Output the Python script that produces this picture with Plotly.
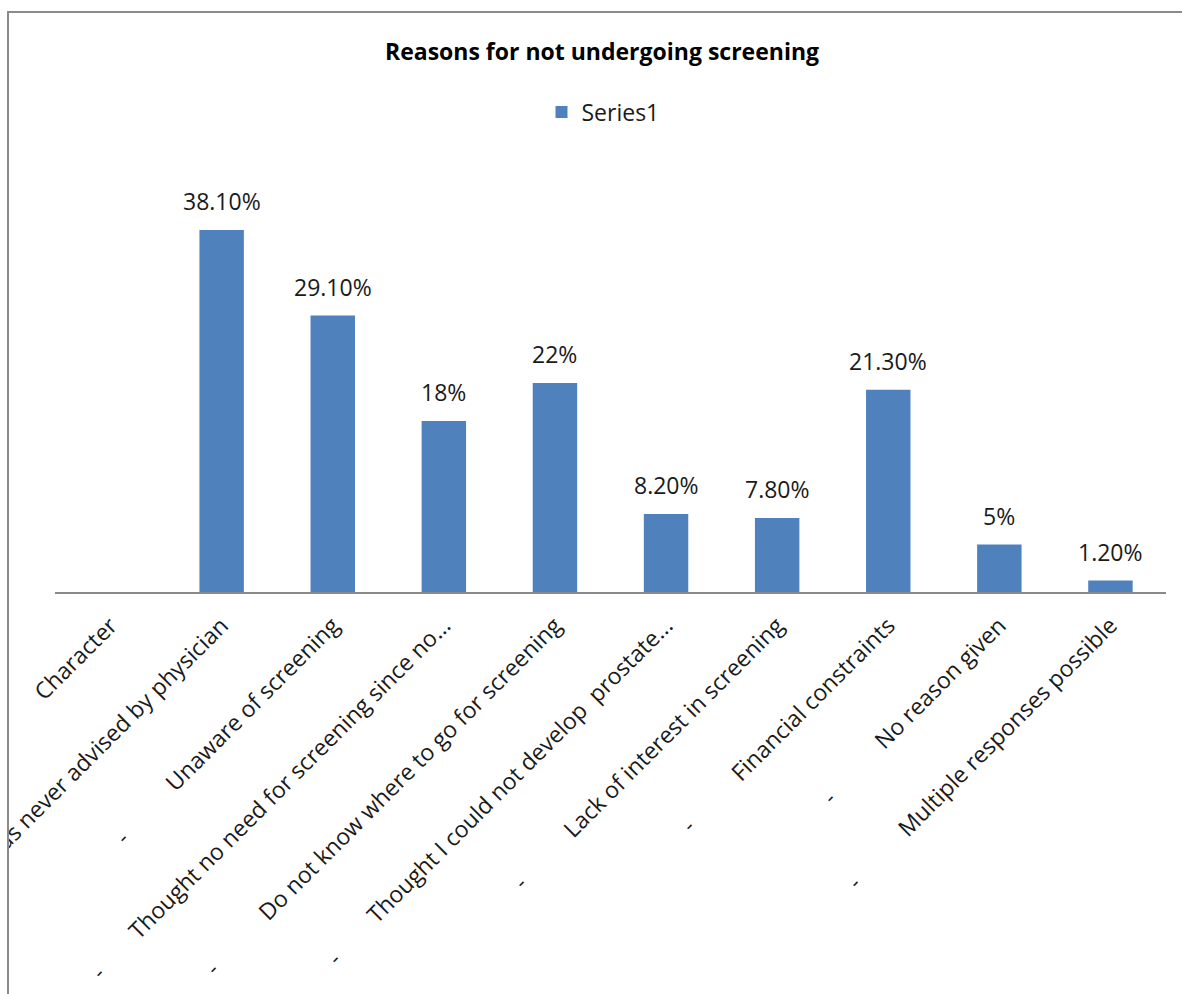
import plotly.graph_objects as go

# Survey responses: reasons for not undergoing screening
categories = [
    "Character",
    "Was never advised by physician",
    "Unaware of screening",
    "Thought no need for screening since no...",
    "Do not know where to go for screening",
    "Thought I could not develop  prostate...",
    "Lack of interest in screening",
    "Financial constraints",
    "No reason given",
    "Multiple responses possible",
]
values = [None, 38.1, 29.1, 18, 22, 8.2, 7.8, 21.3, 5, 1.2]
value_labels = ["", "38.10%", "29.10%", "18%", "22%", "8.20%", "7.80%", "21.30%", "5%", "1.20%"]

# stray second-line dashes under the category labels (pixel positions in the page)
dash_marks = [(121, 837), (97, 972), (211, 968), (333, 958), (519, 882),
              (687, 825), (828, 797), (853, 882)]

W, H = 1182, 994
ML, MR, MT, MB = 55, 16, 212, 402
PW, PH = W - ML - MR, H - MT - MB
YMAX = 40

FONT = "Open Sans, Liberation Sans, sans-serif"
BAR = "#4F81BD"
TXT = "#1a1a1a"

fig = go.Figure()
fig.add_trace(go.Bar(
    x=categories, y=values, name="Series1",
    marker=dict(color=BAR, line=dict(width=0)),
    width=0.4,
))

# value labels above the bars
for c, v, t in zip(categories, values, value_labels):
    if v is None:
        continue
    fig.add_annotation(x=c, y=v, xref="x", yref="y", text=t, showarrow=False,
                       yanchor="bottom", yshift=11,
                       font=dict(family=FONT, size=23, color=TXT))


def px_x(p):
    return (p - ML) / PW


def px_y(p):
    return (H - MB - p) / PH


for dx, dy in dash_marks:
    fig.add_annotation(x=px_x(dx), y=px_y(dy), xref="paper", yref="paper",
                       text="-", showarrow=False, textangle=-45,
                       xanchor="center", yanchor="middle",
                       font=dict(family=FONT, size=22, color=TXT))

# white mask left of the chart frame, then the frame itself
fig.add_shape(type="rect", xref="paper", yref="paper", layer="above",
              x0=px_x(-50), x1=px_x(8), y0=px_y(H + 50), y1=px_y(-50),
              fillcolor="white", line=dict(width=0))
fig.add_shape(type="rect", xref="paper", yref="paper", layer="above",
              x0=px_x(8), x1=px_x(W + 40), y0=px_y(H + 40), y1=px_y(12),
              fillcolor="rgba(0,0,0,0)", line=dict(color="#8a8a8a", width=2))

fig.update_layout(
    width=W, height=H,
    margin=dict(l=ML, r=MR, t=MT, b=MB, autoexpand=False),
    paper_bgcolor="white", plot_bgcolor="white",
    font=dict(family=FONT, size=22, color=TXT),
    title=dict(text="<b>Reasons for not undergoing screening</b>",
               x=602 / W, xanchor="center", xref="container",
               y=1 - 52 / H, yanchor="middle", yref="container",
               font=dict(family=FONT, size=23, color="#000000")),
    showlegend=True,
    legend=dict(orientation="h", x=603 / W, xanchor="center", xref="container",
                y=1 - 112 / H, yanchor="middle", yref="container",
                font=dict(family=FONT, size=23, color=TXT),
                itemwidth=30, bgcolor="rgba(0,0,0,0)"),
    bargap=0.6,
)
fig.update_xaxes(type="category", tickangle=-45, showline=True, linecolor="#8a8a8a",
                 linewidth=2, ticks="", showgrid=False, zeroline=False,
                 ticklabelstandoff=9,
                 tickfont=dict(family=FONT, size=23, color=TXT))
fig.update_yaxes(range=[0, YMAX], visible=False, showgrid=False, zeroline=False)

fig.write_html("out.html")
